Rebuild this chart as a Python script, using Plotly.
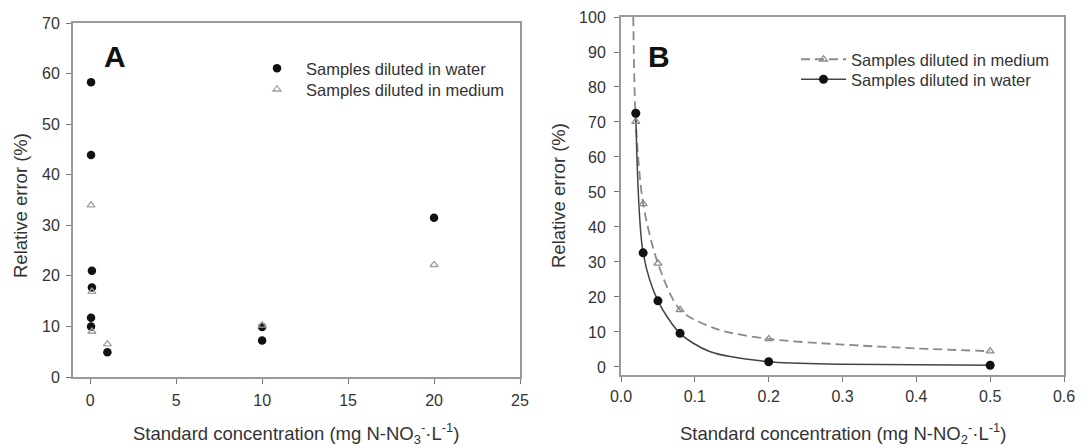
import plotly.graph_objects as go

# ---------------- Data ----------------
# Panel A (N-NO3-)
a_water_x = [0.05, 0.05, 0.1, 0.1, 0.05, 0.05, 1, 10, 10, 20]
a_water_y = [58.3, 43.9, 21.0, 17.7, 11.7, 10.0, 4.9, 7.2, 9.9, 31.5]
a_medium_x = [0.05, 0.1, 0.1, 1, 10, 20]
a_medium_y = [34.0, 16.9, 9.0, 6.5, 10.2, 22.2]

# Panel B (N-NO2-)
b_conc = [0.02, 0.03, 0.05, 0.08, 0.2, 0.5]
b_medium_y = [70.1, 46.6, 29.6, 16.3, 8.0, 4.5]
b_water_y = [72.5, 32.6, 18.9, 9.6, 1.5, 0.5]
# fitted curves
b_medium_fit_x = [0.0166, 0.02, 0.03, 0.05, 0.08, 0.13, 0.2, 0.3, 0.4, 0.5]
b_medium_fit_y = [100.0, 70.1, 46.6, 29.6, 16.3, 10.8, 8.0, 6.4, 5.3, 4.5]
b_water_fit_x = [0.02, 0.03, 0.05, 0.08, 0.12, 0.2, 0.3, 0.4, 0.5]
b_water_fit_y = [72.5, 32.6, 18.9, 9.6, 4.4, 1.5, 0.8, 0.6, 0.5]

a_xticks = [0, 5, 10, 15, 20, 25]
a_yticks = [0, 10, 20, 30, 40, 50, 60, 70]
b_xticks = [0.0, 0.1, 0.2, 0.3, 0.4, 0.5, 0.6]
b_yticks = [0, 10, 20, 30, 40, 50, 60, 70, 80, 90, 100]

FONT = "Liberation Sans, Arial, sans-serif"
TXT = "#333333"
AX = "#9a9a9a"
W, H = 1083, 448

def px_x(p):
    return p / W

def px_y(p):
    return 1 - p / H

MED = "#8a8a8a"
MED_LINE = dict(color=MED, width=1.8, dash="9px,5px")
WAT_LINE = dict(color="#444444", width=1.5)
MED_MARK = dict(symbol="triangle-up-open", size=7, color=MED, line=dict(width=1.3))
WAT_MARK = dict(symbol="circle", size=9, color="#111111")

fig = go.Figure()

# Panel A
fig.add_trace(go.Scatter(
    x=a_water_x, y=a_water_y, mode="markers", name="Samples diluted in water",
    marker=dict(symbol="circle", size=8.5, color="#111111"),
    xaxis="x", yaxis="y", legend="legend"))
fig.add_trace(go.Scatter(
    x=a_medium_x, y=a_medium_y, mode="markers", name="Samples diluted in medium",
    marker=dict(symbol="triangle-up-open", size=7, color="#a0a0a0", line=dict(width=1.3)),
    xaxis="x", yaxis="y", legend="legend3"))

# Panel B: fitted curves
fig.add_trace(go.Scatter(
    x=b_medium_fit_x, y=b_medium_fit_y, mode="lines", showlegend=False,
    line=dict(shape="spline", smoothing=0.8, **MED_LINE),
    xaxis="x2", yaxis="y2"))
fig.add_trace(go.Scatter(
    x=b_water_fit_x, y=b_water_fit_y, mode="lines", showlegend=False,
    line=dict(shape="spline", smoothing=0.8, **WAT_LINE),
    xaxis="x2", yaxis="y2"))
# Panel B: data points
fig.add_trace(go.Scatter(
    x=b_conc, y=b_medium_y, mode="markers", showlegend=False, marker=MED_MARK,
    xaxis="x2", yaxis="y2"))
fig.add_trace(go.Scatter(
    x=b_conc, y=b_water_y, mode="markers", showlegend=False, marker=WAT_MARK,
    xaxis="x2", yaxis="y2"))
# Panel B: legend entries
fig.add_trace(go.Scatter(
    x=[None], y=[None], mode="lines+markers", name="Samples diluted in medium",
    line=MED_LINE, marker=MED_MARK, xaxis="x2", yaxis="y2", legend="legend2"))
fig.add_trace(go.Scatter(
    x=[None], y=[None], mode="lines+markers", name="Samples diluted in water",
    line=WAT_LINE, marker=WAT_MARK, xaxis="x2", yaxis="y2", legend="legend4"))

axis_common = dict(
    showline=True, linecolor=AX, linewidth=2, mirror=True,
    ticks="outside", ticklen=5, tickwidth=1, tickcolor="#777777",
    showgrid=False, zeroline=False, automargin=False,
    tickfont=dict(family=FONT, size=16, color=TXT),
)

def leg(x, y, iw):
    return dict(x=px_x(x), y=px_y(y), xanchor="left", yanchor="top",
                bgcolor="rgba(0,0,0,0)", font=dict(family=FONT, size=16.5, color=TXT),
                itemwidth=iw, tracegroupgap=0)

fig.update_layout(
    width=W, height=H,
    margin=dict(l=0, r=0, t=0, b=0, autoexpand=False),
    paper_bgcolor="white", plot_bgcolor="white",
    font=dict(family=FONT, size=16, color=TXT),
    showlegend=True,
    xaxis=dict(domain=[px_x(73), px_x(520)], range=[-1, 25], tickvals=a_xticks,
               ticklabelstandoff=3, anchor="y", **axis_common),
    yaxis=dict(domain=[px_y(377), px_y(23)], range=[0, 70], tickvals=a_yticks,
               ticklabelstandoff=3, anchor="x", **axis_common),
    xaxis2=dict(domain=[px_x(621), px_x(1064)], range=[0, 0.6], tickvals=b_xticks,
                tickformat=".1f", ticklabelstandoff=1, anchor="y2", **axis_common),
    yaxis2=dict(domain=[px_y(375), px_y(17)], range=[-2.3, 100], tickvals=b_yticks,
                ticklabelstandoff=5, anchor="x2", **axis_common),
    legend=leg(248, 51, 48),
    legend3=leg(248, 72, 48),
    legend2=leg(796, 42, 45),
    legend4=leg(796, 62, 45),
    annotations=[
        dict(text="<b>A</b>", x=px_x(115), y=px_y(57), xref="paper", yref="paper",
             xanchor="center", yanchor="middle",
             showarrow=False, font=dict(family=FONT, size=30, color="#111111")),
        dict(text="<b>B</b>", x=px_x(659), y=px_y(57), xref="paper", yref="paper",
             xanchor="center", yanchor="middle",
             showarrow=False, font=dict(family=FONT, size=30, color="#111111")),
        dict(text="Standard concentration (mg N-NO<sub>3</sub><sup>-</sup>·L<sup>-1</sup>)",
             x=px_x(296), y=px_y(433), xref="paper", yref="paper", showarrow=False,
             xanchor="center", yanchor="middle",
             font=dict(family=FONT, size=18.5, color=TXT)),
        dict(text="Standard concentration (mg N-NO<sub>2</sub><sup>-</sup>·L<sup>-1</sup>)",
             x=px_x(843), y=px_y(433), xref="paper", yref="paper", showarrow=False,
             xanchor="center", yanchor="middle",
             font=dict(family=FONT, size=18.5, color=TXT)),
        dict(text="Relative error (%)", x=px_x(20), y=px_y(206), xref="paper", yref="paper",
             xanchor="center", yanchor="middle",
             showarrow=False, textangle=-90, font=dict(family=FONT, size=18.5, color=TXT)),
        dict(text="Relative error (%)", x=px_x(558), y=px_y(196), xref="paper", yref="paper",
             xanchor="center", yanchor="middle",
             showarrow=False, textangle=-90, font=dict(family=FONT, size=18.5, color=TXT)),
    ],
)

fig.write_html("out.html")
